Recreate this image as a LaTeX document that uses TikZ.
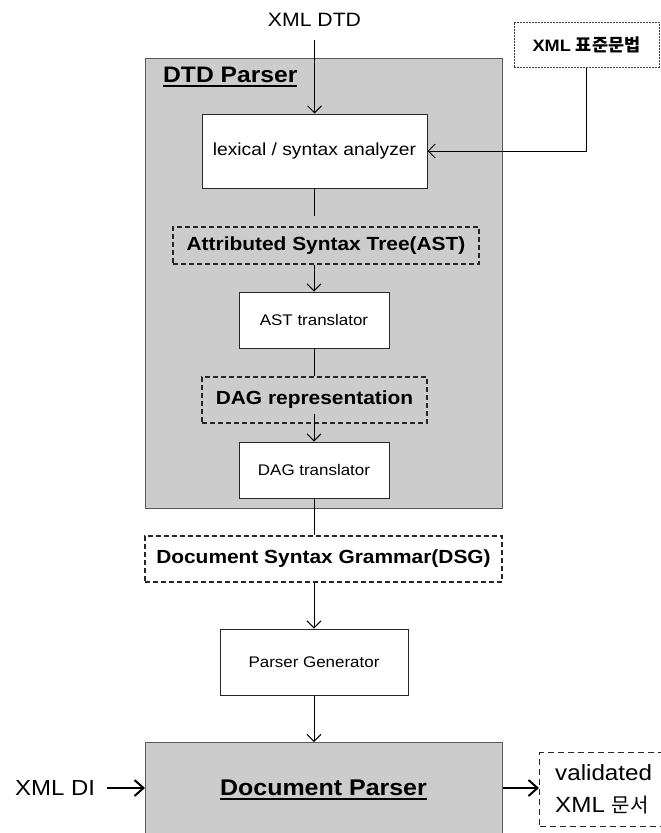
\documentclass[tikz,border=0pt]{standalone}
\usepackage{fontspec}
\setmainfont{Liberation Sans}[FakeStretch=1.1]
\newfontfamily\kr{Noto Sans CJK KR}
\usetikzlibrary{arrows.meta}
\newcommand\thickul[1]{\setbox0\hbox{#1}\leavevmode\rlap{\rule[-4.5pt]{\wd0}{2pt}}\box0}
\definecolor{boxgray}{HTML}{CCCCCC}
\begin{document}
\begin{tikzpicture}[x=1pt,y=-1pt,
  arr/.style={-{Straight Barb[length=7pt,width=14pt]}, line width=1pt},
  tarr/.style={-{Straight Barb[length=9pt,width=16pt]}, line width=2pt},
  ln/.style={line width=1pt},
  whitebox/.style={draw=black!85, fill=white, line width=1pt, inner sep=0pt},
  dashbox/.style={draw=black!85, dash pattern=on 5pt off 3pt, line width=1.2pt, inner sep=0pt},
  dotbox/.style={draw=black!75, dash pattern=on 2pt off 1pt, line width=1pt, inner sep=0pt},
  graybox/.style={draw=black!65, fill=boxgray, line width=1pt, inner sep=0pt},
  plain/.style={inner sep=0pt},
  fsmall/.style={font=\fontsize{15.4}{18}\selectfont},
  fbold/.style={font=\bfseries\fontsize{19}{22}\selectfont}]
\useasboundingbox (0,0) rectangle (661,833);

% DTD Parser container
\node[graybox, minimum width=357, minimum height=450, anchor=north west] (dtd) at (145,58) {};
\node[plain, anchor=base west, font=\bfseries\fontsize{22.4}{26}\selectfont] (dtdlbl) at (163,82) {\thickul{DTD Parser}};

% inputs
\node[plain, anchor=base, font=\fontsize{19.3}{23}\selectfont] (xmldtd) at (314.5,26) {XML DTD};
\node[dotbox, minimum width=145, minimum height=45] (std) at (586.5,44.5)
  {\bfseries\fontsize{16.5}{19}\selectfont XML {\kr\bfseries\fontsize{17.5}{19}\selectfont 표준문법}};

% inner nodes
\node[whitebox, minimum width=225, minimum height=74, font=\fontsize{17.5}{21}\selectfont] (lex) at (314.5,151) {lexical / syntax analyzer};
\node[dashbox, minimum width=306, minimum height=37, fbold] (ast) at (326,245.5) {Attributed Syntax Tree(AST)};
\node[whitebox, minimum width=150, minimum height=56, fsmall] (asttr) at (314,320) {AST translator};
\node[dashbox, minimum width=225, minimum height=46, fbold] (dagrep) at (314.5,400) {DAG representation};
\node[whitebox, minimum width=150, minimum height=56, fsmall] (dagtr) at (314,470) {DAG translator};

% below
\node[dashbox, minimum width=357, minimum height=46, fbold] (dsg) at (323.5,559) {Document Syntax Grammar(DSG)};
\node[whitebox, minimum width=188, minimum height=66, fsmall] (pg) at (314,662) {Parser Generator};
\node[graybox, minimum width=357, minimum height=110, anchor=north west] (dp) at (145,742) {};
\node[plain, anchor=base, font=\bfseries\fontsize{22.7}{26}\selectfont] (dplbl) at (323.5,795) {\thickul{Document Parser}};

\node[plain, anchor=west, font=\fontsize{21.8}{26}\selectfont] (xmldi) at (15,788) {XML DI};
\node[dashbox, dash pattern=on 6pt off 4pt, minimum width=130, minimum height=74, anchor=north west] (val) at (539,752) {};
\node[plain, anchor=base west, font=\fontsize{22}{26}\selectfont] (valt1) at (555,780) {validated};
\node[plain, anchor=base west, font=\fontsize{22}{26}\selectfont] (valt2) at (555,812) {XML {\kr\fontsize{20}{24}\selectfont 문서}};

% connectors
\draw[arr, shorten <=14pt] (xmldtd.south) -- (lex.north);
\draw[arr] (std.south) |- (lex.east);
\draw[ln, shorten >=10pt] (lex.south) -- (lex.south |- ast.north);
\draw[arr] (asttr.north |- ast.south) -- (asttr.north);
\draw[ln] (asttr.south) -- (asttr.south |- dagrep.north);
\draw[arr, shorten <=-10pt] (dagtr.north |- dagrep.south) -- (dagtr.north);
\draw[ln] (dagtr.south) -- (dagtr.south |- dsg.north);
\draw[arr] (pg.north |- dsg.south) -- (pg.north);
\draw[arr] (pg.south) -- (pg.south |- dp.north);
\draw[tarr, shorten <=12pt] (xmldi.east) -- (xmldi.east -| dp.west);
\draw[tarr] (xmldi.east -| dp.east) -- (xmldi.east -| val.west);
\end{tikzpicture}
\end{document}
